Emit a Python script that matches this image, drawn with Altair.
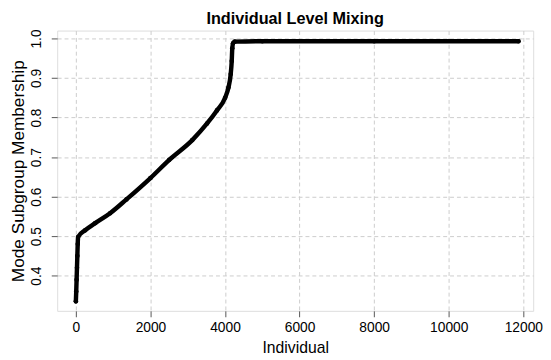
import altair as alt
import pandas as pd

individual = [0, 10, 20, 30, 40, 50, 60, 250, 520, 918, 1357, 2000, 2505,
              3122, 3519, 3783, 4003, 4092, 4153, 4180, 4195, 4215, 4260,
              5000, 8000, 11870]
membership = [0.335, 0.36, 0.39, 0.42, 0.45, 0.48, 0.498, 0.515, 0.533,
              0.558, 0.593, 0.647, 0.693, 0.743, 0.785, 0.818, 0.85, 0.876,
              0.91, 0.943, 0.975, 0.988, 0.992, 0.993, 0.993, 0.993]

x_ticks = [0, 2000, 4000, 6000, 8000, 10000, 12000]
y_ticks = [0.4, 0.5, 0.6, 0.7, 0.8, 0.9, 1.0]

df = pd.DataFrame({"Individual": individual, "Membership": membership})

FONT = "Liberation Sans"
AX = "#555555"

x_enc = alt.X("Individual:Q",
              scale=alt.Scale(domain=[-501, 12264], nice=False, zero=False),
              axis=alt.Axis(values=x_ticks, title="Individual", format="d",
                            grid=True, gridDash=[4, 3], gridColor="#cccccc",
                            tickSize=6, labelPadding=4, labelFontSize=14,
                            titleFontSize=16, titleFontWeight="normal",
                            titlePadding=5, domain=False, tickColor=AX,
                            labelColor="#000000", titleColor="#000000"))
y_enc = alt.Y("Membership:Q",
              scale=alt.Scale(domain=[0.311, 1.020], nice=False, zero=False),
              axis=alt.Axis(values=y_ticks, title="Mode Subgroup Membership",
                            format=".1f", grid=True, gridDash=[4, 3],
                            gridColor="#cccccc", tickSize=6, labelAngle=270,
                            labelAlign="center", labelBaseline="bottom",
                            labelPadding=8, labelFontSize=14,
                            titleFontSize=17.5, titleFontWeight="normal",
                            titlePadding=2, domain=False, tickColor=AX,
                            labelColor="#000000", titleColor="#000000"))

line = alt.Chart(df).mark_line(color="black", strokeWidth=4.5,
                               strokeCap="round", strokeJoin="round",
                               interpolate="monotone").encode(
    x=x_enc, y=y_enc)
pts = alt.Chart(df).mark_circle(color="black", size=22, opacity=1).encode(
    x="Individual:Q", y="Membership:Q")

chart = (line + pts).properties(
    width=484, height=285,
    title=alt.Title("Individual Level Mixing", fontSize=16.5, fontWeight="bold",
                    font=FONT, offset=2, color="#000000"),
    autosize=alt.AutoSizeParams(type="none"),
    padding={"left": 50, "top": 20, "right": 10, "bottom": 46},
).configure_view(stroke=AX, strokeWidth=1.3).configure(font=FONT)

chart.save("out.html", embed_options={"renderer": "svg", "actions": False})
